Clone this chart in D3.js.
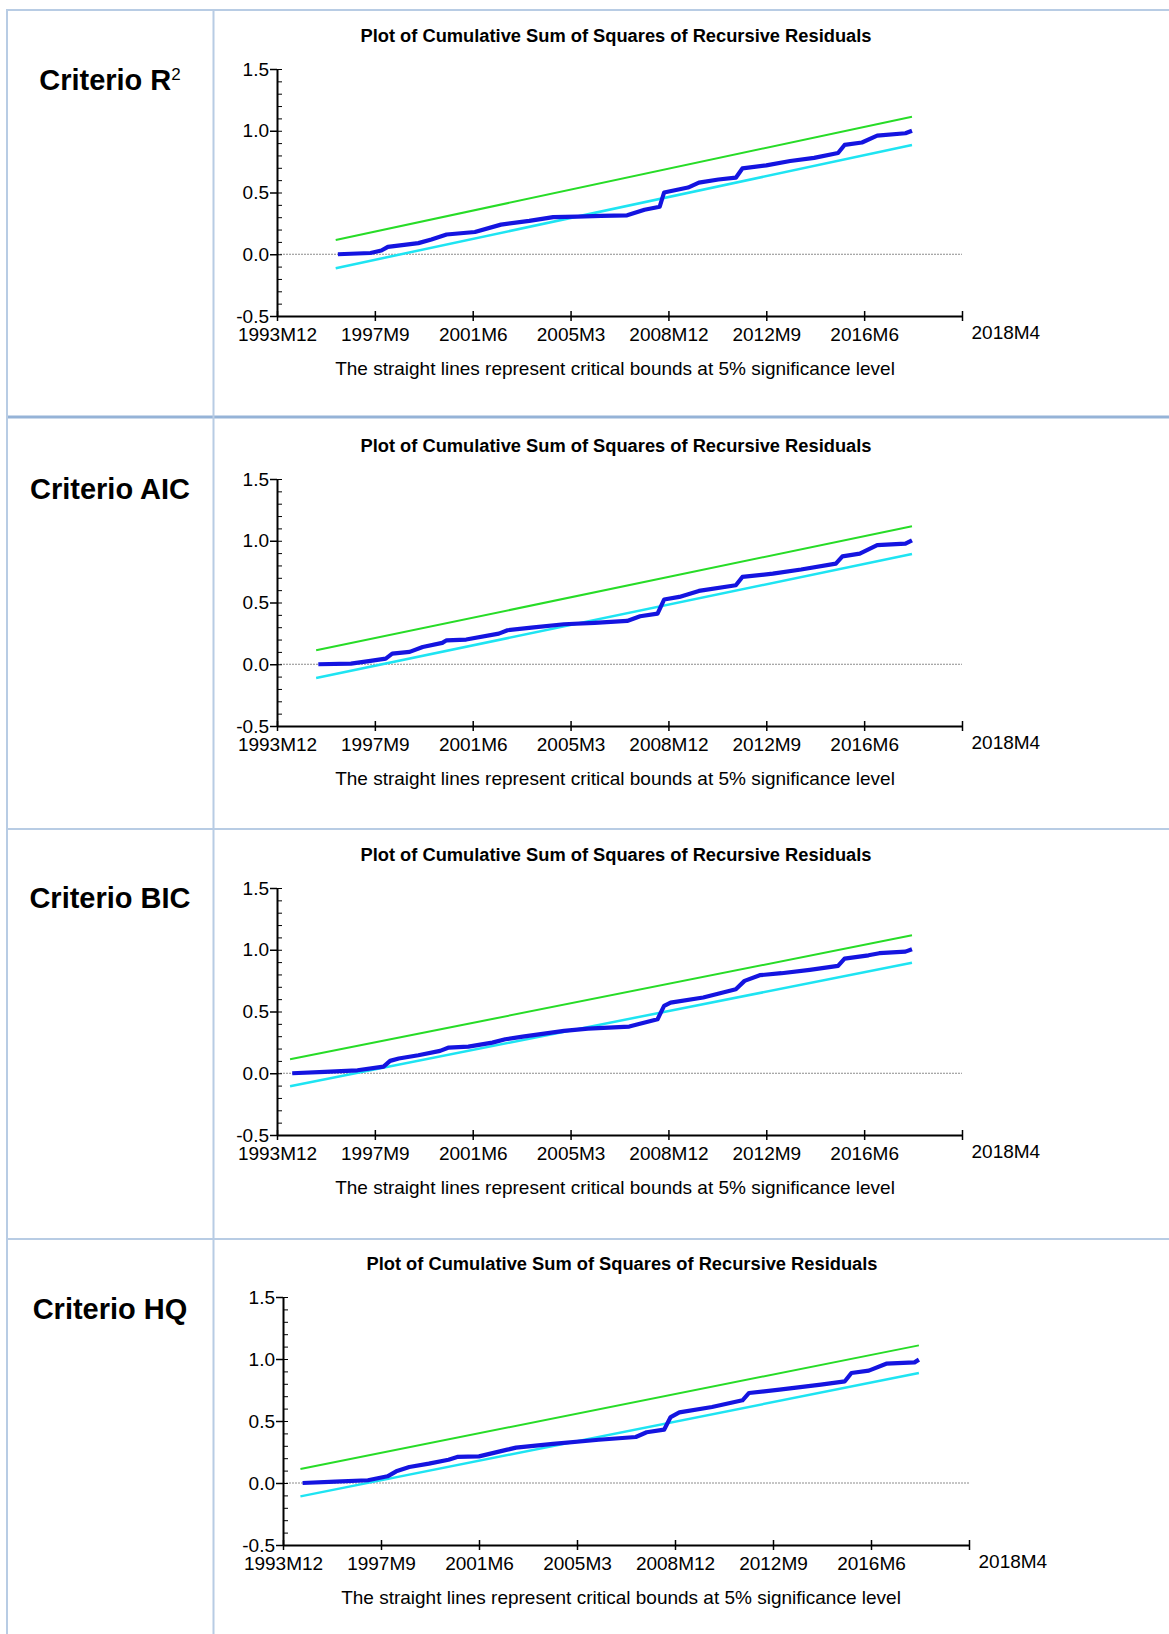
<!DOCTYPE html>
<html>
<head>
<meta charset="utf-8">
<script src="https://cdn.jsdelivr.net/npm/d3@7"></script>
<style>
  body { margin: 0; background: #fff; }
  svg { display: block; font-family: "Liberation Sans", Arial, sans-serif; }
</style>
</head>
<body>
<div id="chart"></div>
<script>
// row labels (first one gets a superscript 2)
const criteria = ['Criterio R', 'Criterio AIC', 'Criterio BIC', 'Criterio HQ'];
const titleText = 'Plot of Cumulative Sum of Squares of Recursive Residuals';
const noteText = 'The straight lines represent critical bounds at 5% significance level';

// x axis: months counted from 1993M12
const xTickMonths = [0, 45, 90, 135, 180, 225, 270, 315];
const xTickLabels = ['1993M12', '1997M9', '2001M6', '2005M3', '2008M12', '2012M9', '2016M6', '2018M4'];
const yTicks = [-0.5, 0, 0.5, 1.0, 1.5];

// critical bounds (start / end month, start / end value)
const boundStart = [27, 18, 6, 8];
const boundEnd = [292, 292, 292, 292];
const upperBound = [[0.116, 1.114], [0.113, 1.117], [0.113, 1.117], [0.113, 1.110]];
const lowerBound = [[-0.113, 0.885], [-0.111, 0.893], [-0.105, 0.895], [-0.108, 0.887]];

// CUSUMSQ paths [month, value]
const r2Path = [[28, 0.00], [43, 0.01], [48, 0.03], [51, 0.06], [65, 0.09], [71, 0.12], [78, 0.16], [91, 0.18],
  [103, 0.24], [116, 0.27], [127, 0.30], [138, 0.305], [149, 0.31], [161, 0.315], [169, 0.36], [176, 0.385],
  [178, 0.50], [189, 0.54], [194, 0.58], [203, 0.605], [211, 0.62], [214, 0.695], [225, 0.72], [236, 0.755],
  [247, 0.78], [258, 0.82], [261, 0.885], [269, 0.905], [276, 0.96], [289, 0.98], [292, 1.00]];
const aicPath = [[19, 0.00], [34, 0.005], [43, 0.027], [50, 0.046], [53, 0.086], [61, 0.10], [67, 0.14], [76, 0.173],
  [78, 0.194], [87, 0.20], [102, 0.248], [106, 0.275], [117, 0.297], [132, 0.324], [146, 0.335], [161, 0.351],
  [167, 0.389], [175, 0.41], [178, 0.524], [185, 0.545], [194, 0.594], [211, 0.64], [214, 0.707], [228, 0.734],
  [241, 0.767], [257, 0.815], [260, 0.874], [268, 0.896], [276, 0.964], [289, 0.977], [292, 1.004]];
const bicPath = [[7, 0.00], [22, 0.011], [37, 0.024], [49, 0.054], [52, 0.10], [56, 0.119], [65, 0.146], [75, 0.181],
  [79, 0.208], [88, 0.216], [99, 0.248], [105, 0.275], [113, 0.297], [132, 0.343], [143, 0.362], [162, 0.378],
  [166, 0.397], [175, 0.437], [178, 0.545], [181, 0.572], [196, 0.613], [211, 0.68], [215, 0.748], [222, 0.794],
  [232, 0.81], [245, 0.837], [258, 0.869], [261, 0.928], [272, 0.955], [277, 0.972], [289, 0.985], [292, 1.004]];
const hqPath = [[9, 0.00], [24, 0.011], [39, 0.022], [48, 0.054], [52, 0.094], [58, 0.129], [67, 0.156], [76, 0.188],
  [80, 0.21], [90, 0.215], [103, 0.269], [107, 0.285], [124, 0.315], [145, 0.349], [162, 0.371], [167, 0.409],
  [175, 0.43], [178, 0.532], [182, 0.57], [197, 0.613], [211, 0.667], [214, 0.726], [228, 0.753], [247, 0.793],
  [258, 0.82], [261, 0.887], [269, 0.906], [277, 0.962], [290, 0.973], [292, 0.995]];
const paths = [r2Path, aicPath, bicPath, hqPath];

const W = 1169, H = 1634;
const C = { grid: '#b8cce4', gridDark: '#95b3d7', green: '#27dc27', cyan: '#1ee4f2', blue: '#1414e0', zero: '#8c8c8c' };

// panel frames (axis box) and label baselines
const frames = [
  { x0: 277, x1: 962, yTop: 69, yBot: 316, labelY: 90 },
  { x0: 277, x1: 962, yTop: 479, yBot: 726, labelY: 499 },
  { x0: 277, x1: 962, yTop: 888, yBot: 1135, labelY: 908 },
  { x0: 283, x1: 969, yTop: 1297, yBot: 1545, labelY: 1319 }
];

const svg = d3.select('#chart').append('svg')
  .attr('width', W).attr('height', H)
  .attr('viewBox', `0 0 ${W} ${H}`);

// table grid
const rowLines = [10, 417, 829, 1239];
rowLines.forEach((y, i) => {
  svg.append('line')
    .attr('x1', 6).attr('x2', W).attr('y1', y).attr('y2', y)
    .attr('stroke', i === 1 ? C.gridDark : C.grid)
    .attr('stroke-width', i === 1 ? 3 : 2);
});
[7, 213.5].forEach(x => {
  svg.append('line')
    .attr('x1', x).attr('x2', x).attr('y1', 9).attr('y2', H)
    .attr('stroke', C.grid).attr('stroke-width', 2);
});

frames.forEach((f, i) => {
  const g = svg.append('g');
  const x = d3.scaleLinear().domain([0, 315]).range([f.x0, f.x1]);
  const y = d3.scaleLinear().domain([-0.5, 1.5]).range([f.yBot, f.yTop]);

  // row label
  const lab = g.append('text')
    .attr('x', 110).attr('y', f.labelY)
    .attr('text-anchor', 'middle')
    .style('font-size', '29px').style('font-weight', 'bold')
    .text(criteria[i]);
  if (i === 0) {
    lab.append('tspan')
      .attr('dy', -10)
      .style('font-size', '17px').style('font-weight', 'normal')
      .text('2');
  }

  // title
  g.append('text')
    .attr('x', f.x0 + 339).attr('y', f.yTop - 27)
    .attr('text-anchor', 'middle')
    .style('font-size', '18.3px').style('font-weight', 'bold')
    .text(titleText);

  // zero reference line
  g.append('line')
    .attr('x1', f.x0).attr('x2', f.x1)
    .attr('y1', y(0)).attr('y2', y(0))
    .attr('stroke', C.zero).attr('stroke-width', 1)
    .attr('stroke-dasharray', '2 1');

  // minor y ticks (inside)
  g.append('g')
    .attr('transform', `translate(${f.x0},0)`)
    .call(d3.axisRight(y).tickValues(d3.range(-5, 16).map(v => v / 10)).tickSize(5).tickFormat(''))
    .call(s => s.select('.domain').remove())
    .call(s => s.selectAll('line').attr('stroke', '#000').attr('stroke-width', 1));

  // y axis
  g.append('g')
    .attr('transform', `translate(${f.x0},0)`)
    .call(d3.axisLeft(y).tickValues(yTicks).tickSize(7).tickSizeOuter(0).tickPadding(1).tickFormat(d => d.toFixed(1)))
    .call(s => s.select('.domain').attr('stroke', '#000').attr('stroke-width', 2))
    .call(s => s.selectAll('line').attr('stroke', '#000').attr('stroke-width', 1.5))
    .call(s => s.selectAll('text').attr('fill', '#000').style('font-size', '19px').style('font-family', '"Liberation Sans", Arial, sans-serif'));

  // x axis inner tick halves
  g.append('g')
    .attr('transform', `translate(0,${f.yBot})`)
    .call(d3.axisTop(x).tickValues(xTickMonths).tickSize(5).tickFormat(''))
    .call(s => s.select('.domain').remove())
    .call(s => s.selectAll('line').attr('stroke', '#000').attr('stroke-width', 1.5));

  // x axis
  const xa = g.append('g')
    .attr('transform', `translate(0,${f.yBot})`)
    .call(d3.axisBottom(x).tickValues(xTickMonths).tickSize(5).tickSizeOuter(0).tickPadding(7)
      .tickFormat((d, k) => xTickLabels[k]))
    .call(s => s.select('.domain').attr('stroke', '#000').attr('stroke-width', 2))
    .call(s => s.selectAll('line').attr('stroke', '#000').attr('stroke-width', 1.5))
    .call(s => s.selectAll('text').attr('fill', '#000').style('font-size', '19px').style('font-family', '"Liberation Sans", Arial, sans-serif'));
  // last label sits to the right of the end tick
  xa.selectAll('.tick').filter(d => d === 315).select('text')
    .attr('text-anchor', 'start').attr('x', 9).attr('y', 10);

  // bounds
  const line = d3.line().x(d => x(d[0])).y(d => y(d[1]));
  g.append('path')
    .datum([[boundStart[i], upperBound[i][0]], [boundEnd[i], upperBound[i][1]]])
    .attr('fill', 'none').attr('stroke', C.green).attr('stroke-width', 2)
    .attr('d', line);
  g.append('path')
    .datum([[boundStart[i], lowerBound[i][0]], [boundEnd[i], lowerBound[i][1]]])
    .attr('fill', 'none').attr('stroke', C.cyan).attr('stroke-width', 2.5)
    .attr('d', line);

  // cusum of squares
  g.append('path')
    .datum(paths[i])
    .attr('fill', 'none').attr('stroke', C.blue).attr('stroke-width', 4.2)
    .attr('stroke-linejoin', 'round')
    .attr('d', line);

  // note under the axis
  g.append('text')
    .attr('x', f.x0 + 338).attr('y', f.yBot + 59)
    .attr('text-anchor', 'middle')
    .style('font-size', '19px')
    .text(noteText);
});
</script>
</body>
</html>
